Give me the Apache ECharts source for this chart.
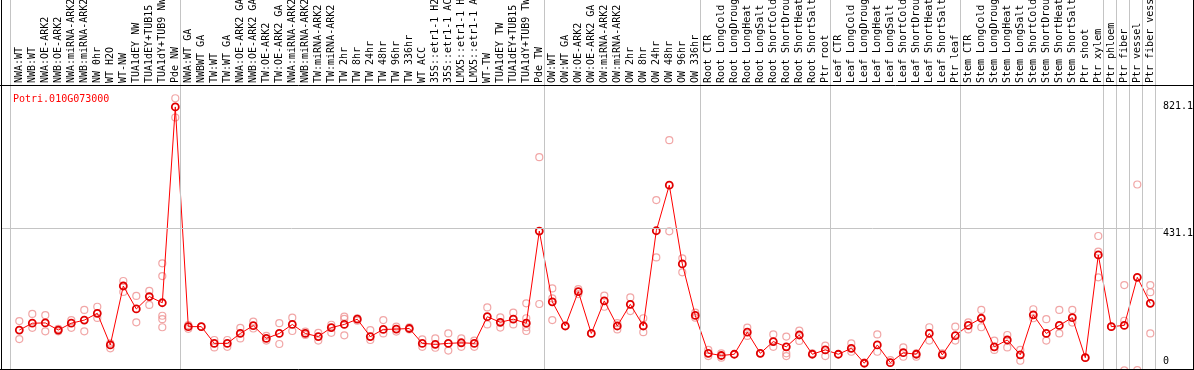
<!DOCTYPE html>
<html>
<head>
<meta charset="utf-8">
<script src="https://cdn.jsdelivr.net/npm/echarts@6/dist/echarts.min.js"></script>
<style>
  html, body { margin: 0; padding: 0; background: #fff; }
  #chart { width: 1194px; height: 370px; }
</style>
</head>
<body>
<div id="chart"></div>
<script>
// ---- data ----
const geneName = "Potri.010G073000";

const categories = [
  "NWA:WT", "NWB:WT", "NWA:OE-ARK2", "NWB:OE-ARK2", "NWA:miRNA-ARK2", "NWB:miRNA-ARK2",
  "NW 0hr", "WT H2O", "WT-NW", "TUA1dEY NW", "TUA1dEY+TUB15 NW", "TUA1dY+TUB9 NW", "Pde NW",
  "NWA:WT GA", "NWBWT GA", "TW:WT", "TW:WT GA", "NWA:OE-ARK2 GA", "NWB:OE-ARK2 GA",
  "TW:OE-ARK2", "TW:OE-ARK2 GA", "NWA:miRNA-ARK2 GA", "NWB:miRNA-ARK2 GA", "TW:miRNA-ARK2",
  "TW:miRNA-ARK2", "TW 2hr", "TW 8hr", "TW 24hr", "TW 48hr", "TW 96hr", "TW 336hr", "WT ACC",
  "35S::etr1-1 H2O", "35S::etr1-1 ACC", "LMX5::etr1-1 H2O", "LMX5::etr1-1 ACC", "WT-TW",
  "TUA1dEY TW", "TUA1dEY+TUB15 TW", "TUA1dY+TUB9 TW", "Pde TW",
  "OW:WT", "OW:WT GA", "OW:OE-ARK2", "OW:OE-ARK2 GA", "OW:miRNA-ARK2", "OW:miRNA-ARK2",
  "OW 2hr", "OW 8hr", "OW 24hr", "OW 48hr", "OW 96hr", "OW 336hr",
  "Root CTR", "Root LongCold", "Root LongDrought", "Root LongHeat", "Root LongSalt",
  "Root ShortCold", "Root ShortDrought", "Root ShortHeat", "Root ShortSalt", "Ptr root",
  "Leaf CTR", "Leaf LongCold", "Leaf LongDrought", "Leaf LongHeat", "Leaf LongSalt",
  "Leaf ShortCold", "Leaf ShortDrought", "Leaf ShortHeat", "Leaf ShortSalt", "Ptr leaf",
  "Stem CTR", "Stem LongCold", "Stem LongDrought", "Stem LongHeat", "Stem LongSalt",
  "Stem ShortCold", "Stem ShortDrought", "Stem ShortHeat", "Stem ShortSalt", "Ptr shoot", "Ptr xylem",
  "Ptr phloem", "Ptr fiber", "Ptr vessel", "Ptr fiber vessel"
];

const meanValues = [
  102, 124, 125, 102, 124, 134, 156, 54, 244, 170, 210, 190, 821,
  113, 113, 59, 59, 91, 116, 75, 91, 120, 91, 81, 110, 120, 137, 81, 104, 105, 107,
  59, 56, 59, 61, 59, 145, 127, 137, 124, 421,
  193, 115, 226, 91, 196, 115, 185, 115, 422, 569, 315, 149,
  27, 20, 24, 95, 27, 65, 48, 86, 24, 38,
  24, 43, -5, 54, -3, 29, 24, 91, 22, 84,
  117, 140, 48, 70, 22, 151, 91, 117, 142, 13, 344,
  113, 117, 272, 188
];

const replicateValues = [
  [131, 73], [154, 109], [150, 98], [98, 106], [134, 109], [167, 98], [177, 141], [59, 43],
  [260, 225], [212, 127], [228, 183], [317, 276, 148, 137, 111], [849, 787],
  [118, 106], [113], [70, 46], [70, 48], [109, 75], [129, 107], [83, 68], [124, 57],
  [142, 99], [97, 86], [93, 68], [119, 93], [145, 138, 85], [140, 132], [102, 70],
  [134, 91], [113, 97], [111, 104], [72, 48], [75, 45], [91, 36], [75, 48], [68, 48],
  [175, 120], [143, 110], [158, 120], [188, 140, 111, 99], [659, 186],
  [236, 204, 134], [115], [218, 234], [91], [213, 177], [124, 104], [207, 163], [140, 95],
  [521, 336], [714, 420], [333, 288], [158, 142],
  [38, 18], [27, 13], [24], [110, 83], [27], [88, 48], [81, 27, 18], [100, 67], [27], [52, 18],
  [24], [59, 32], [-3], [88, 32], [5], [46, 16], [27, 16], [111, 68], [27], [113, 68],
  [127, 104], [167, 111], [68, 38], [86, 46], [38, 3], [169, 140], [137, 68], [167, 91],
  [167, 126], [13], [405, 355, 272],
  [113], [247, 132, -28], [571, -27], [247, 224, 91]
];

// last category index of each group (separators drawn after them)
const groupEnds = [12, 40, 52, 62, 72, 83, 84, 85, 86, 87];

const yTickValues = [0, 431.1, 821.1];
const gridLineValue = 431.1;

// ---- build ----
const idx = categories.map((_, i) => i);
const meanData = meanValues.map((v, i) => [i, v]);
const repData = [];
replicateValues.forEach((arr, i) => arr.forEach(v => repData.push([i, v])));

const sepValues = [-0.7].concat(groupEnds.map(e => e + 0.38));
const sepLines = sepValues.map(x => ({ xAxis: x }));

const X_MIN = -1.4077, X_MAX = 87.977;
const Y_MIN = -23.53, Y_MAX = 1165.6;
const MONO = "'DejaVu Sans Mono', 'Liberation Mono', monospace";

const chart = echarts.init(document.getElementById('chart'), null, { renderer: 'canvas' });

chart.setOption({
  animation: false,
  backgroundColor: '#fff',
  title: {
    text: geneName,
    left: 8, top: 89,
    textStyle: { color: '#ff0000', fontFamily: MONO, fontSize: 10, fontWeight: 'normal' }
  },
  grid: { left: 1, right: 31, top: 0, bottom: 1, containLabel: false, outerBoundsMode: 'none' },
  xAxis: [{
    type: 'value',
    position: 'top',
    offset: -85,
    min: X_MIN, max: X_MAX,
    axisLine: { show: false },
    axisTick: { show: false },
    splitLine: { show: false },
    axisLabel: {
      customValues: idx,
      rotate: 90,
      margin: 2,
      color: '#000',
      fontFamily: MONO,
      fontSize: 10,
      hideOverlap: false,
      formatter: v => categories[Math.round(v)] || ''
    }
  }],
  yAxis: [{
    type: 'value',
    position: 'right',
    min: Y_MIN, max: Y_MAX,
    axisLine: { show: false },
    axisTick: { show: false },
    splitLine: { show: false },
    axisLabel: {
      customValues: yTickValues,
      margin: 0,
      color: '#000',
      fontFamily: MONO,
      fontSize: 10,
      formatter: v => Math.abs(v - 431.1) < 0.01 ? '{d|431.1}' : String(v),
      rich: {
        d: { padding: [10, 0, 0, 0], color: '#000', fontFamily: MONO, fontSize: 10 }
      }
    }
  }],
  series: [
    {
      type: 'scatter',
      name: 'replicates',
      data: repData,
      clip: false,
      symbol: 'circle',
      symbolSize: 7,
      itemStyle: { color: 'rgba(0,0,0,0)', borderColor: '#ee9090', borderWidth: 1.2 },
      z: 2,
      markLine: {
        silent: true,
        symbol: 'none',
        label: { show: false },
        lineStyle: { color: '#c4c4c4', width: 1, type: 'solid' },
        data: sepLines.concat([{ yAxis: gridLineValue }])
      }
    },
    {
      type: 'line',
      name: 'mean',
      data: meanData,
      clip: false,
      symbol: 'circle',
      symbolSize: 7,
      showAllSymbol: true,
      lineStyle: { color: '#ff0000', width: 1 },
      itemStyle: { color: 'rgba(0,0,0,0)', borderColor: '#e00000', borderWidth: 1.8 },
      z: 3
    }
  ],
  graphic: [
    { type: 'line', shape: { x1: 1.5, y1: 0, x2: 1.5, y2: 370 }, style: { stroke: '#000', lineWidth: 1 }, z: 10 },
    { type: 'line', shape: { x1: 1193.5, y1: 0, x2: 1193.5, y2: 370 }, style: { stroke: '#000', lineWidth: 1 }, z: 10 },
    { type: 'line', shape: { x1: 0, y1: 85.5, x2: 1194, y2: 85.5 }, style: { stroke: '#000', lineWidth: 1 }, z: 10 },
    { type: 'line', shape: { x1: 0, y1: 369.5, x2: 1194, y2: 369.5 }, style: { stroke: '#000', lineWidth: 1 }, z: 10 }
  ]
});
</script>
</body>
</html>
